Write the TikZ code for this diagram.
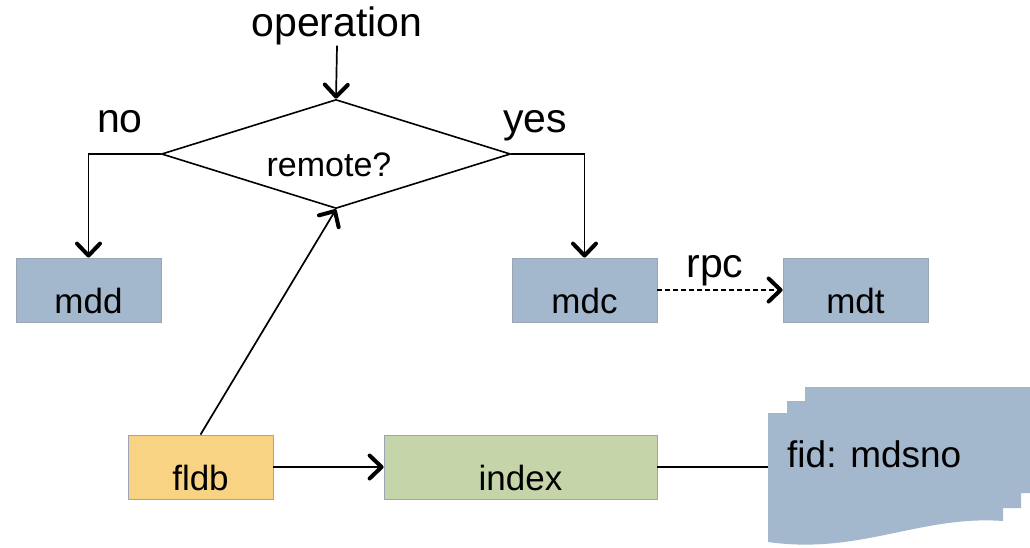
\documentclass[tikz,border=0pt]{standalone}
\usepackage{fontspec}
\setmainfont{Liberation Sans}
\usetikzlibrary{shapes.geometric,arrows.meta}
\definecolor{boxblue}{HTML}{A3B7CD}
\definecolor{boxyellow}{HTML}{F8D384}
\definecolor{boxgreen}{HTML}{C6D5A9}
\definecolor{boxedge}{HTML}{9AA6B4}
\tikzset{
  lbl/.style={font=\fontsize{41}{48}\selectfont, inner sep=0pt, anchor=base},
  boxnode/.style={draw=boxedge, line width=0.8pt, rectangle, inner sep=0pt,
    minimum height=64pt, text height=50pt, text depth=4pt,
    font=\fontsize{35}{42}\selectfont},
  conn/.style={line width=1.7pt},
  arr/.style={conn, -{Straight Barb[length=12pt,width=23pt,line width=4pt,round]}},
}
\begin{document}
\begin{tikzpicture}[x=1pt,y=-1pt]
\useasboundingbox (0,0) rectangle (1030,548);
% labels
\node[lbl] (op) at (337,37) {operation};
\node[lbl] (no) at (120,133) {no};
\node[lbl] (yes) at (535,133) {yes};
\node[lbl] (rpc) at (715,277) {rpc};
% decision
\node[diamond, draw, line width=1.6pt, minimum width=349pt, minimum height=109pt, inner sep=0pt, aspect=3.2] (dq) at (336,154) {};
\node[font=\fontsize{34}{40}\selectfont, inner sep=0pt, anchor=base] (dqt) at (329,177) {remote?};
% boxes
\node[boxnode, fill=boxblue, minimum width=145pt] (mdd) at (88.5,290) {mdd};
\node[boxnode, fill=boxblue, minimum width=145pt] (mdc) at (584.5,290) {mdc};
\node[boxnode, fill=boxblue, minimum width=145pt] (mdt) at (855.5,290) {mdt};
\node[boxnode, fill=boxyellow, minimum width=145pt] (fldb) at (200.5,467) {fldb};
\node[boxnode, fill=boxgreen, minimum width=273pt] (index) at (520.5,467) {index};
% multi-document shape
\fill[boxblue] (768,413) -- (787,413) -- (787,401) -- (805,401) -- (805,387)
  -- (1030,387) -- (1030,493) -- (1021,493) -- (1021,508) -- (1003,508) -- (1003,521)
  .. controls (920,515) and (860,555) .. (768,542) -- cycle;
\coordinate (docl) at (768,467);
\node[font=\fontsize{37}{44}\selectfont, inner sep=0pt, anchor=base west] (fid) at (787,467) {fid: mdsno};
% connectors
\draw[arr] (op.south) -- (dq.north);
\draw[arr] (dq.west) -| (mdd.north);
\draw[arr] (dq.east) -| (mdc.north);
\draw[arr, line width=1.3pt, dash pattern=on 5pt off 3pt] (mdc.east) -- (mdt.west);
\draw[arr] (fldb.north) -- (dq.south);
\draw[arr] (fldb.east) -- (index.west);
\draw[conn] (index.east) -- (docl);
\end{tikzpicture}
\end{document}
